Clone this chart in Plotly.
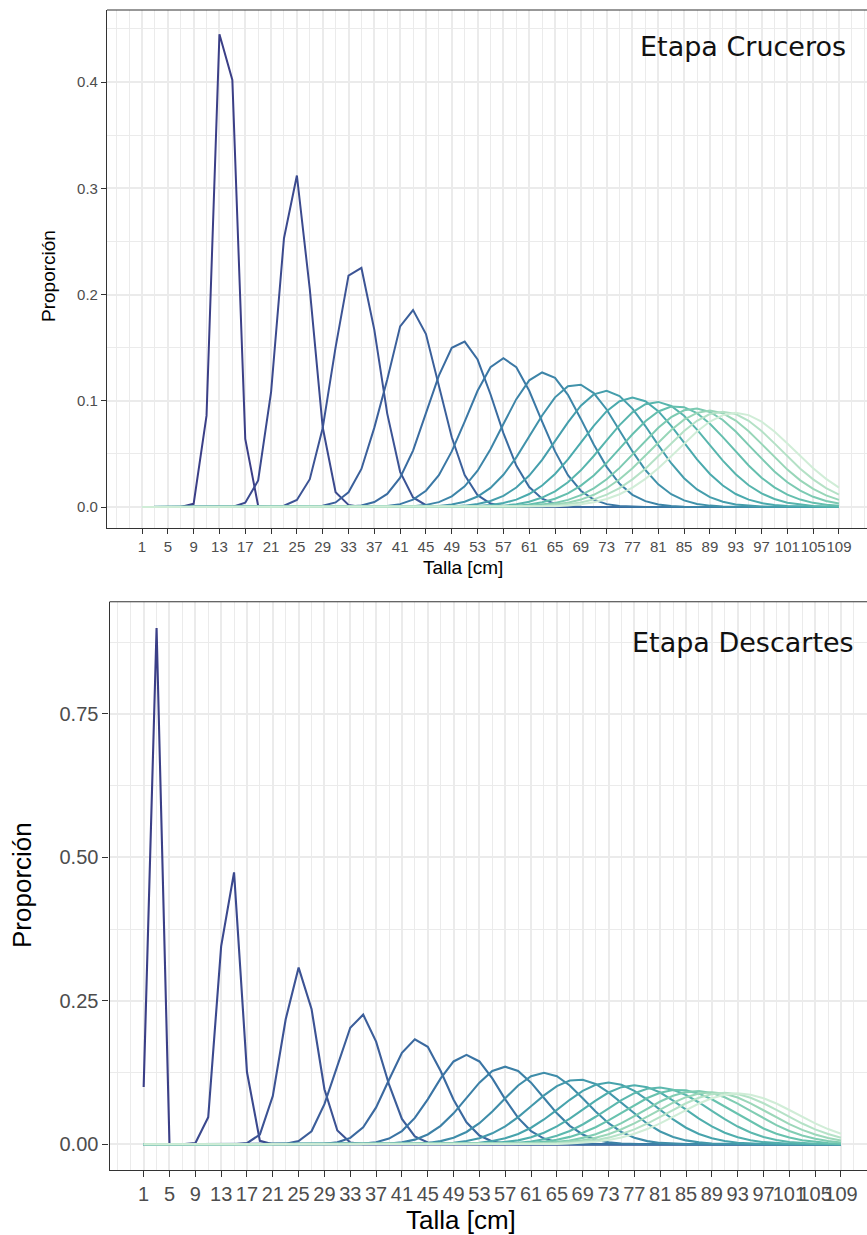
import plotly.graph_objects as go

# Length classes (cm) and axis labels
TALLAS = [1, 3, 5, 7, 9, 11, 13, 15, 17, 19, 21, 23, 25, 27, 29, 31, 33, 35, 37, 39,
          41, 43, 45, 47, 49, 51, 53, 55, 57, 59, 61, 63, 65, 67, 69, 71, 73, 75, 77, 79,
          81, 83, 85, 87, 89, 91, 93, 95, 97, 99, 101, 103, 105, 107, 109]
TICKS_TALLA = [1, 5, 9, 13, 17, 21, 25, 29, 33, 37, 41, 45, 49, 53, 57, 61, 65, 69, 73,
               77, 81, 85, 89, 93, 97, 101, 105, 109]
TICKS_CRUCEROS = [0.0, 0.1, 0.2, 0.3, 0.4]
LABELS_CRUCEROS = ["0.0", "0.1", "0.2", "0.3", "0.4"]
TICKS_DESCARTES = [0.0, 0.25, 0.5, 0.75]
LABELS_DESCARTES = ["0.00", "0.25", "0.50", "0.75"]

# ---- Etapa Cruceros: proportion at length, one row per age (1..16) ----
cru_01 = [0, 0, 0, 0, .003, .086, .445, .402, .064, .001,
          0, 0, 0, 0, 0, 0, 0, 0, 0, 0,
          0, 0, 0, 0, 0, 0, 0, 0, 0, 0,
          0, 0, 0, 0, 0, 0, 0, 0, 0, 0,
          0, 0, 0, 0, 0, 0, 0, 0, 0, 0,
          0, 0, 0, 0, 0]
cru_02 = [0, 0, 0, 0, 0, 0, 0, 0, .004, .025,
          .108, .253, .312, .205, .075, .014, .002, 0, 0, 0,
          0, 0, 0, 0, 0, 0, 0, 0, 0, 0,
          0, 0, 0, 0, 0, 0, 0, 0, 0, 0,
          0, 0, 0, 0, 0, 0, 0, 0, 0, 0,
          0, 0, 0, 0, 0]
cru_03 = [0, 0, 0, 0, 0, 0, 0, 0, 0, 0,
          .0001, .0012, .0066, .0262, .0743, .1504, .2177, .225, .1667, .0879,
          .0331, .009, .0017, .0002, 0, 0, 0, 0, 0, 0,
          0, 0, 0, 0, 0, 0, 0, 0, 0, 0,
          0, 0, 0, 0, 0, 0, 0, 0, 0, 0,
          0, 0, 0, 0, 0]
cru_04 = [0, 0, 0, 0, 0, 0, 0, 0, 0, 0,
          0, 0, 0, .0002, .0011, .0043, .0138, .0358, .0747, .12,
          .170, .1854, .1628, .1152, .0656, .0301, .0111, .0033, .0008, .0001,
          0, 0, 0, 0, 0, 0, 0, 0, 0, 0,
          0, 0, 0, 0, 0, 0, 0, 0, 0, 0,
          0, 0, 0, 0, 0]
cru_05 = [0, 0, 0, 0, 0, 0, 0, 0, 0, 0,
          0, 0, 0, 0, 0, .0001, .0004, .0015, .0047, .0123,
          .0276, .0531, .0875, .1237, .1499, .1557, .1388, .1061, .0695, .039,
          .0188, .0078, .0028, .0008, .0002, 0, 0, 0, 0, 0,
          0, 0, 0, 0, 0, 0, 0, 0, 0, 0,
          0, 0, 0, 0, 0]
cru_06 = [0, 0, 0, 0, 0, 0, 0, 0, 0, 0,
          0, 0, 0, 0, 0, 0, 0, .0001, .0003, .001,
          .0027, .0069, .0153, .030, .0523, .0804, .1094, .1316, .140, .1316,
          .1094, .0804, .0523, .030, .0153, .0069, .0027, .001, .0003, .0001,
          0, 0, 0, 0, 0, 0, 0, 0, 0, 0,
          0, 0, 0, 0, 0]
cru_07 = [0, 0, 0, 0, 0, 0, 0, 0, 0, 0,
          0, 0, 0, 0, 0, 0, 0, 0, 0, 0,
          .0002, .0007, .002, .0046, .010, .0194, .0342, .0543, .0781, .1015,
          .1192, .1266, .1216, .1056, .0829, .0589, .0378, .0219, .0115, .0055,
          .0023, .0009, .0003, .0001, 0, 0, 0, 0, 0, 0,
          0, 0, 0, 0, 0]
cru_08 = [0, 0, 0, 0, 0, 0, 0, 0, 0, 0,
          0, 0, 0, 0, 0, 0, 0, 0, 0, 0,
          0, .0001, .0004, .001, .0023, .005, .0099, .018, .0303, .0467,
          .0661, .0861, .1032, .1137, .1151, .1072, .0918, .0722, .0523, .0348,
          .0213, .012, .0062, .0029, .0013, .0005, .0002, .0001, 0, 0,
          0, 0, 0, 0, 0]
cru_09 = [0, 0, 0, 0, 0, 0, 0, 0, 0, 0,
          0, 0, 0, 0, 0, 0, 0, 0, 0, 0,
          0, 0, .0001, .0002, .0005, .0013, .0028, .0056, .0105, .0183,
          .0296, .0444, .0618, .0797, .0954, .106, .1093, .1044, .0926, .0762,
          .0582, .0412, .0271, .0165, .0093, .0049, .0024, .0011, .0004, .0002,
          .0001, 0, 0, 0, 0]
cru_10 = [0, 0, 0, 0, 0, 0, 0, 0, 0, 0,
          0, 0, 0, 0, 0, 0, 0, 0, 0, 0,
          0, 0, 0, .0001, .0002, .0004, .0009, .0018, .0037, .0069,
          .0122, .0202, .0311, .0448, .0605, .0763, .0902, .0996, .103, .0996,
          .0902, .0763, .0605, .0448, .0311, .0202, .0122, .0069, .0037, .0018,
          .0009, .0004, .0002, .0001, .0001]
cru_11 = [0, 0, 0, 0, 0, 0, 0, 0, 0, 0,
          0, 0, 0, 0, 0, 0, 0, 0, 0, 0,
          0, 0, 0, 0, 0, .0001, .0003, .0006, .0013, .0026,
          .005, .0089, .0148, .0233, .0345, .048, .0627, .0771, .0891, .0968,
          .0989, .0951, .0859, .0729, .0583, .0437, .0309, .0205, .0128, .0075,
          .0041, .0022, .001, .0005, .0002]
cru_12 = [0, 0, 0, 0, 0, 0, 0, 0, 0, 0,
          0, 0, 0, 0, 0, 0, 0, 0, 0, 0,
          0, 0, 0, 0, 0, 0, .0001, .0003, .0006, .0012,
          .0024, .0044, .0078, .0129, .0201, .0297, .0416, .0549, .0685, .0807,
          .0899, .0946, .094, .0883, .0784, .0658, .0521, .0391, .0276, .0185,
          .0117, .007, .0039, .0021, .0011]
cru_13 = [0, 0, 0, 0, 0, 0, 0, 0, 0, 0,
          0, 0, 0, 0, 0, 0, 0, 0, 0, 0,
          0, 0, 0, 0, 0, 0, 0, .0001, .0002, .0005,
          .0011, .0021, .0038, .0067, .0112, .0175, .0261, .0368, .0491, .0621,
          .0745, .0846, .091, .0927, .0895, .0819, .071, .0582, .0453, .0334,
          .0233, .0154, .0096, .0057, .0032]
cru_14 = [0, 0, 0, 0, 0, 0, 0, 0, 0, 0,
          0, 0, 0, 0, 0, 0, 0, 0, 0, 0,
          0, 0, 0, 0, 0, 0, 0, 0, .0001, .0003,
          .0006, .0012, .0023, .0041, .007, .0115, .0177, .0261, .0364, .0482,
          .0606, .0725, .0822, .0886, .0907, .0882, .0814, .0713, .0594, .0469,
          .0352, .0251, .017, .0109, .0067]
cru_15 = [0, 0, 0, 0, 0, 0, 0, 0, 0, 0,
          0, 0, 0, 0, 0, 0, 0, 0, 0, 0,
          0, 0, 0, 0, 0, 0, 0, 0, 0, .0001,
          .0003, .0006, .0013, .0024, .0042, .0072, .0116, .0178, .026, .0361,
          .0477, .0599, .0715, .0811, .0875, .0897, .0875, .0811, .0715, .0599,
          .0477, .0361, .026, .0178, .0116]
cru_16 = [0, 0, 0, 0, 0, 0, 0, 0, 0, 0,
          0, 0, 0, 0, 0, 0, 0, 0, 0, 0,
          0, 0, 0, 0, 0, 0, 0, 0, 0, .0001,
          .0002, .0003, .0007, .0014, .0025, .0045, .0075, .012, .0183, .0265,
          .0365, .0478, .0598, .071, .0804, .0865, .0887, .0865, .0804, .071,
          .0598, .0478, .0365, .0265, .0183]

CRUCEROS = [cru_01, cru_02, cru_03, cru_04, cru_05, cru_06, cru_07, cru_08,
            cru_09, cru_10, cru_11, cru_12, cru_13, cru_14, cru_15, cru_16]

# ---- Etapa Descartes: ages 0..9 (older ages share the cruise key) ----
des_00 = [.10, .90, 0, 0, 0, 0, 0, 0, 0, 0,
          0, 0, 0, 0, 0, 0, 0, 0, 0, 0,
          0, 0, 0, 0, 0, 0, 0, 0, 0, 0,
          0, 0, 0, 0, 0, 0, 0, 0, 0, 0,
          0, 0, 0, 0, 0, 0, 0, 0, 0, 0,
          0, 0, 0, 0, 0]
des_01 = [0, 0, 0, 0, .002, .047, .345, .474, .126, .006,
          0, 0, 0, 0, 0, 0, 0, 0, 0, 0,
          0, 0, 0, 0, 0, 0, 0, 0, 0, 0,
          0, 0, 0, 0, 0, 0, 0, 0, 0, 0,
          0, 0, 0, 0, 0, 0, 0, 0, 0, 0,
          0, 0, 0, 0, 0]
des_02 = [0, 0, 0, 0, 0, 0, 0, 0, .002, .017,
          .084, .218, .308, .236, .096, .024, .003, .0003, 0, 0,
          0, 0, 0, 0, 0, 0, 0, 0, 0, 0,
          0, 0, 0, 0, 0, 0, 0, 0, 0, 0,
          0, 0, 0, 0, 0, 0, 0, 0, 0, 0,
          0, 0, 0, 0, 0]
des_03 = [0, 0, 0, 0, 0, 0, 0, 0, 0, 0,
          .0002, .0011, .0058, .0227, .07, .138, .2031, .226, .1789, .1043,
          .0443, .0137, .0031, .0005, .0001, 0, 0, 0, 0, 0,
          0, 0, 0, 0, 0, 0, 0, 0, 0, 0,
          0, 0, 0, 0, 0, 0, 0, 0, 0, 0,
          0, 0, 0, 0, 0]
des_04 = [0, 0, 0, 0, 0, 0, 0, 0, 0, 0,
          0, 0, 0, .0002, .0008, .0034, .0111, .0297, .0643, .1125,
          .1595, .183, .1699, .1277, .0777, .0383, .0153, .0049, .0013, .0003,
          .0001, 0, 0, 0, 0, 0, 0, 0, 0, 0,
          0, 0, 0, 0, 0, 0, 0, 0, 0, 0,
          0, 0, 0, 0, 0]
des_05 = [0, 0, 0, 0, 0, 0, 0, 0, 0, 0,
          0, 0, 0, 0, 0, .0001, .0003, .0012, .0037, .01,
          .0231, .046, .0784, .1149, .1444, .1559, .1444, .1149, .0784, .046,
          .0231, .01, .0037, .0012, .0003, .0001, 0, 0, 0, 0,
          0, 0, 0, 0, 0, 0, 0, 0, 0, 0,
          0, 0, 0, 0, 0]
des_06 = [0, 0, 0, 0, 0, 0, 0, 0, 0, 0,
          0, 0, 0, 0, 0, 0, 0, .0001, .0004, .0013,
          .0034, .0081, .0171, .0322, .054, .0807, .1075, .1277, .1353, .1277,
          .1075, .0807, .054, .0322, .0171, .0081, .0034, .0013, .0004, .0001,
          0, 0, 0, 0, 0, 0, 0, 0, 0, 0,
          0, 0, 0, 0, 0]
des_07 = [0, 0, 0, 0, 0, 0, 0, 0, 0, 0,
          0, 0, 0, 0, 0, 0, 0, 0, 0, .0001,
          .0003, .0009, .0024, .0055, .0114, .0215, .0368, .0571, .0804, .1026,
          .1188, .1247, .1188, .1026, .0804, .0571, .0368, .0215, .0114, .0055,
          .0024, .0009, .0003, .0001, 0, 0, 0, 0, 0, 0,
          0, 0, 0, 0, 0]
des_08 = [0, 0, 0, 0, 0, 0, 0, 0, 0, 0,
          0, 0, 0, 0, 0, 0, 0, 0, 0, 0,
          0, .0002, .0005, .0012, .0027, .0056, .0107, .0191, .0313, .0474,
          .0662, .0853, .1015, .1113, .1126, .1052, .0906, .0721, .0529, .0358,
          .0223, .0129, .0068, .0034, .0015, .0006, .0002, .0001, 0, 0,
          0, 0, 0, 0, 0]
des_09 = [0, 0, 0, 0, 0, 0, 0, 0, 0, 0,
          0, 0, 0, 0, 0, 0, 0, 0, 0, 0,
          0, 0, .0001, .0002, .0006, .0013, .0028, .0056, .0104, .018,
          .0289, .0432, .0601, .0776, .0932, .1039, .1078, .1039, .0932, .0776,
          .0601, .0432, .0289, .018, .0104, .0056, .0028, .0013, .0006, .0002,
          .0001, 0, 0, 0, 0]

DESCARTES = [des_00, des_01, des_02, des_03, des_04, des_05, des_06, des_07,
             des_08, des_09] + CRUCEROS[9:]

# ---- styling ----
W, H = 867, 1235
ANCHORS = [(0.00, "#3B3F87"), (0.15, "#3C5797"), (0.30, "#3A72A3"),
           (0.45, "#3F8FAA"), (0.60, "#4AAAAD"), (0.75, "#68C2AE"),
           (0.88, "#9DD8B9"), (1.00, "#D0EDD7")]


def ramp(t):
    for (t0, c0), (t1, c1) in zip(ANCHORS[:-1], ANCHORS[1:]):
        if t <= t1:
            f = (t - t0) / (t1 - t0)
            a = [int(c0[i:i + 2], 16) for i in (1, 3, 5)]
            b = [int(c1[i:i + 2], 16) for i in (1, 3, 5)]
            return "rgb(%d,%d,%d)" % tuple(round(a[k] + (b[k] - a[k]) * f) for k in range(3))
    return ANCHORS[-1][1]


def px_x(p):
    return p / W


def px_y(p):
    return 1 - p / H


GRID = "#EBEBEB"
INK = "#333333"
TICKFONT = "Liberation Sans, Arial, sans-serif"

fig = go.Figure()

for i, row in enumerate(CRUCEROS):
    fig.add_trace(go.Scatter(x=TALLAS, y=row, mode="lines", xaxis="x", yaxis="y",
                             line=dict(color=ramp(i / (len(CRUCEROS) - 1)), width=2),
                             showlegend=False, hoverinfo="skip"))
for i, row in enumerate(DESCARTES):
    fig.add_trace(go.Scatter(x=TALLAS, y=row, mode="lines", xaxis="x2", yaxis="y2",
                             line=dict(color=ramp(i / (len(DESCARTES) - 1)), width=2.1),
                             showlegend=False, hoverinfo="skip"))


def xaxis(domain_left, rng, fsize, tlen, anchor):
    return dict(domain=[px_x(domain_left), 1.0], range=rng, anchor=anchor,
                tickmode="array", tickvals=TICKS_TALLA, ticktext=[str(v) for v in TICKS_TALLA],
                tickangle=0,
                ticks="outside", ticklen=tlen, tickwidth=1.1, tickcolor=INK,
                tickfont=dict(family=TICKFONT, size=fsize, color="#4D4D4D"),
                showgrid=True, gridcolor=GRID, gridwidth=1.5,
                minor=dict(tickmode="linear", tick0=1, dtick=2, showgrid=True,
                           gridcolor=GRID, gridwidth=0.8, ticklen=0),
                showline=True, linecolor=INK, linewidth=1.1, zeroline=False, fixedrange=True)


def yaxis(top, bottom, rng, vals, labels, minor_step, fsize, tlen, anchor):
    return dict(domain=[px_y(bottom), px_y(top)], range=rng, anchor=anchor,
                tickmode="array", tickvals=vals, ticktext=labels,
                ticks="outside", ticklen=tlen, tickwidth=1.1, tickcolor=INK,
                tickfont=dict(family=TICKFONT, size=fsize, color="#4D4D4D"),
                showgrid=True, gridcolor=GRID, gridwidth=1.5,
                minor=dict(tickmode="linear", tick0=0, dtick=minor_step, showgrid=True,
                           gridcolor=GRID, gridwidth=0.8, ticklen=0),
                showline=True, linecolor=INK, linewidth=1.1, zeroline=False, fixedrange=True)


fig.update_layout(
    width=W, height=H, margin=dict(l=0, r=0, t=0, b=0),
    paper_bgcolor="white", plot_bgcolor="white", showlegend=False,
    xaxis=xaxis(107, [-4.423, 113.34], 15, 5, "y"),
    yaxis=yaxis(10, 528, [-0.01976, 0.46776], TICKS_CRUCEROS, LABELS_CRUCEROS, 0.05, 15, 5, "x"),
    xaxis2=xaxis(109.5, [-4.29, 113.03], 20, 6, "y2"),
    yaxis2=yaxis(601.7, 1170, [-0.0448, 0.9457], TICKS_DESCARTES, LABELS_DESCARTES, 0.125, 20, 6, "x2"),
)

# top edge of each panel frame
for xr, yr in (("x domain", "y domain"), ("x2 domain", "y2 domain")):
    fig.add_shape(type="line", xref=xr, yref=yr, x0=0, x1=1, y0=1, y1=1,
                  line=dict(color=INK, width=1.1), layer="above")

TITLE_FONT = "Liberation Sans, Arial, sans-serif"
LABEL_FONT = "DejaVu Sans, sans-serif"


def note(text, x, y, size, family, xanchor="center", angle=0, color="black"):
    fig.add_annotation(text=text, x=px_x(x), y=px_y(y), xref="paper", yref="paper",
                       xanchor=xanchor, yanchor="middle", textangle=angle, showarrow=False,
                       font=dict(family=family, size=size, color=color))


note("Proporción", 48, 276, 19, TITLE_FONT, angle=-90)
note("Talla [cm]", 463, 567, 19, TITLE_FONT)
note("Proporción", 22, 885, 26, TITLE_FONT, angle=-90)
note("Talla [cm]", 461, 1220, 26, TITLE_FONT)
note("Etapa Cruceros", 848, 47, 27, LABEL_FONT, xanchor="right", color="#111111")
note("Etapa Descartes", 856, 642, 27, LABEL_FONT, xanchor="right", color="#111111")

fig.write_html("out.html")
